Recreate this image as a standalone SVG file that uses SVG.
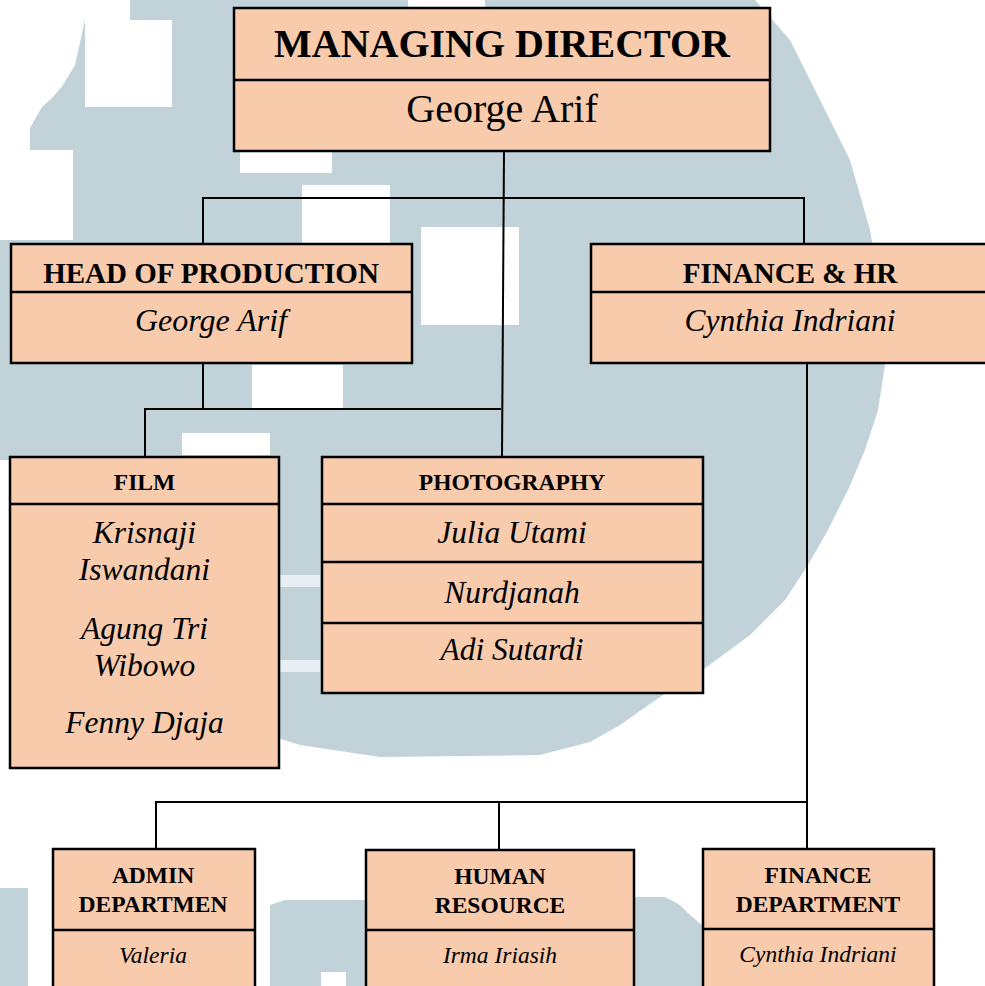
<svg xmlns="http://www.w3.org/2000/svg" width="985" height="986" viewBox="0 0 985 986">
<style>
.box{fill:#f7cbac;stroke:#000;stroke-width:2.5}
.div{stroke:#000;stroke-width:2.5;fill:none}
.con{stroke:#000;stroke-width:2;fill:none}
.wm{fill:#c1d3d9}
.wh{fill:#ffffff}
.lt{fill:#e6eef1}
text{font-family:"Liberation Serif","Times New Roman",serif;fill:#000;text-anchor:middle}
.b{font-weight:bold}
.i{font-style:italic}
</style>
<rect width="985" height="986" fill="#ffffff"/>
<g id="watermark">
<polygon class="wm" points="130,0 755,0 790,40 820,100 850,160 870,230 882,300 885,365 878,410 865,450 848,490 828,530 808,565 785,600 750,635 700,672 660,697 620,725 590,742 540,755 380,757 300,745 278,738 278,740 10,740 10,460 0,460 0,240 73,240 73,150 30,150 30,128 42,107 53,97 63,85 75,65 85,20 130,20"/>
<rect class="wh" x="85" y="20" width="87" height="87"/>
<rect class="wh" x="408" y="0" width="77" height="8"/>
<rect class="wh" x="240" y="152" width="92" height="21"/>
<rect class="wh" x="302" y="185" width="88" height="58"/>
<rect class="wh" x="421" y="227" width="98" height="98"/>
<rect class="wh" x="252" y="365" width="91" height="43"/>
<rect class="wh" x="182" y="433" width="88" height="22"/>
<rect class="lt" x="280" y="575" width="40" height="12"/>
<rect class="lt" x="280" y="660" width="40" height="12"/>
<rect class="wm" x="0" y="888" width="28" height="98"/>
<polygon class="wm" points="270,905 285,900 366,900 366,986 270,986"/>
<polygon class="wm" points="635,897 665,897 680,905 690,915 702,925 702,986 635,986"/>
<rect class="wh" x="321" y="972" width="25" height="14"/>
</g>
<g id="connectors">
<path class="con" d="M504,151 L502,457"/>
<path class="con" d="M203,244 V198 H804 V244"/>
<path class="con" d="M203,363 V409"/>
<path class="con" d="M145,457 V409 H501"/>
<path class="con" d="M807,363 V849"/>
<path class="con" d="M156,849 V802 H807"/>
<path class="con" d="M499,802 V850"/>
</g>
<g id="managing-director">
<rect class="box" x="234" y="8" width="536" height="143"/>
<line class="div" x1="234" y1="80" x2="770" y2="80"/>
<text class="b" x="502" y="57" font-size="40">MANAGING DIRECTOR</text>
<text x="502" y="122" font-size="40">George Arif</text>
</g>
<g id="head-of-production">
<rect class="box" x="11" y="244" width="401" height="119"/>
<line class="div" x1="11" y1="292" x2="412" y2="292"/>
<text class="b" x="211" y="283" font-size="29">HEAD OF PRODUCTION</text>
<text class="i" x="211" y="331" font-size="32">George Arif</text>
</g>
<g id="finance-hr">
<rect class="box" x="591" y="244" width="400" height="119"/>
<line class="div" x1="591" y1="292" x2="991" y2="292"/>
<text class="b" x="790" y="283" font-size="29">FINANCE &amp; HR</text>
<text class="i" x="790" y="331" font-size="31.5">Cynthia Indriani</text>
</g>
<g id="film">
<rect class="box" x="10" y="457" width="269" height="311"/>
<line class="div" x1="10" y1="504" x2="279" y2="504"/>
<text class="b" x="144.5" y="490" font-size="23.5">FILM</text>
<text class="i" x="144.5" y="543" font-size="31.5">Krisnaji</text>
<text class="i" x="144.5" y="580" font-size="31.5">Iswandani</text>
<text class="i" x="144.5" y="639" font-size="31.5">Agung Tri</text>
<text class="i" x="144.5" y="676" font-size="31.5">Wibowo</text>
<text class="i" x="144.5" y="733" font-size="31.5">Fenny Djaja</text>
</g>
<g id="photography">
<rect class="box" x="322" y="457" width="381" height="236"/>
<line class="div" x1="322" y1="504" x2="703" y2="504"/>
<line class="div" x1="322" y1="562" x2="703" y2="562"/>
<line class="div" x1="322" y1="623" x2="703" y2="623"/>
<text class="b" x="512" y="490" font-size="23.5">PHOTOGRAPHY</text>
<text class="i" x="512" y="543" font-size="31.5">Julia Utami</text>
<text class="i" x="512" y="603" font-size="31.5">Nurdjanah</text>
<text class="i" x="512" y="660" font-size="31.5">Adi Sutardi</text>
</g>
<g id="admin-department">
<rect class="box" x="53" y="849" width="202" height="150"/>
<line class="div" x1="53" y1="930" x2="255" y2="930"/>
<text class="b" x="153" y="883" font-size="23.5">ADMIN</text>
<text class="b" x="153" y="912" font-size="23.5">DEPARTMEN</text>
<text class="i" x="153" y="963" font-size="23.5">Valeria</text>
</g>
<g id="human-resource">
<rect class="box" x="366" y="850" width="268" height="150"/>
<line class="div" x1="366" y1="930" x2="634" y2="930"/>
<text class="b" x="500" y="884" font-size="23.5">HUMAN</text>
<text class="b" x="500" y="913" font-size="23.5">RESOURCE</text>
<text class="i" x="500" y="963" font-size="23.5">Irma Iriasih</text>
</g>
<g id="finance-department">
<rect class="box" x="703" y="849" width="231" height="150"/>
<line class="div" x1="703" y1="929" x2="934" y2="929"/>
<text class="b" x="818" y="883" font-size="23.5">FINANCE</text>
<text class="b" x="818" y="912" font-size="23.5">DEPARTMENT</text>
<text class="i" x="818" y="962" font-size="23.5">Cynthia Indriani</text>
</g>
</svg>
